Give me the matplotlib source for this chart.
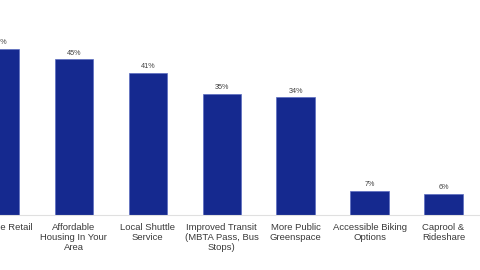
import matplotlib
matplotlib.use("Agg")
import matplotlib.pyplot as plt

categories = ["Walkable Retail", "Affordable\nHousing In Your\nArea", "Local Shuttle\nService",
              "Improved Transit\n(MBTA Pass, Bus\nStops)", "More Public\nGreenspace",
              "Accessible Biking\nOptions", "Caprool &\nRideshare"]
values = [48, 45, 41, 35, 34, 7, 6]
value_labels = ["48%", "45%", "41%", "35%", "34%", "7%", "6%"]

plt.rcParams['font.family'] = ['Liberation Sans', 'DejaVu Sans']

fig = plt.figure(figsize=(4.8, 2.7), dpi=100)
ax = fig.add_axes([0, 55/270, 1, 215/270])
x = list(range(len(categories)))
ax.bar(x, values, width=0.52, color="#15298f", edgecolor="#5a6bbf", linewidth=0.5, zorder=2)
ax.set_xlim(0.5/74, 480.5/74)
ax.set_ylim(0, 215/3.46)
for xi, v, lab in zip(x, values, value_labels):
    ax.annotate(lab, (xi, v), xytext=(0, 2), textcoords="offset points",
                ha="center", va="bottom", fontsize=5.2, color="#404040")
ax.set_xticks(x)
ax.set_xticklabels(categories, fontsize=6.8, color="#3a3a3a", linespacing=1.2)
ax.tick_params(axis="x", length=0, pad=5.5)
ax.set_yticks([])
for s in ["top", "right", "left"]:
    ax.spines[s].set_visible(False)
ax.spines["bottom"].set_color("#e0e0e0")
ax.spines["bottom"].set_linewidth(0.8)
fig.savefig("out.png", dpi=100)
